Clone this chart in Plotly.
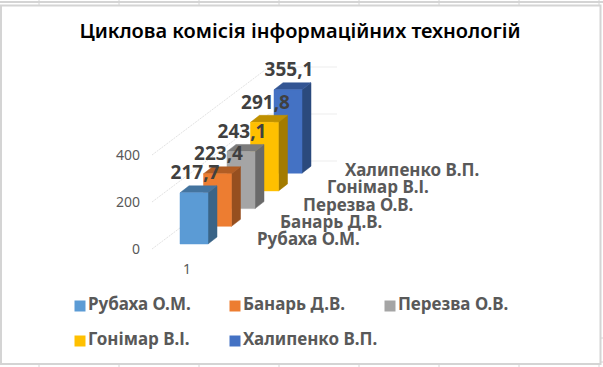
import plotly.graph_objects as go

# --- data ---
TITLE = "Циклова комісія інформаційних технологій"
series_names = ["Рубаха О.М.", "Банарь Д.В.", "Перезва О.В.", "Гонімар В.І.", "Халипенко В.П."]
series_values = [217.7, 223.4, 243.1, 291.8, 355.1]
value_labels = ["217,7", "223,4", "243,1", "291,8", "355,1"]
category_labels = ["1"]
value_ticks = [0, 200, 400]
front_colors = ["#5B9BD5", "#ED7D31", "#A5A5A5", "#FFC000", "#4472C4"]
top_colors = ["#44749F", "#B15D24", "#7B7B7B", "#BF9000", "#335593"]
side_colors = ["#3A6487", "#964F1F", "#6A6A6A", "#A37B00", "#2B4A7D"]
text_color = "#595959"
label_color = "#404040"
grid_color = "#EDEDED"
sheet_color = "#D4D4D4"

W, H = 603, 367
PX_PER_UNIT = 0.235          # vertical pixels per value unit
ZERO_Y = 249                 # pixel row of value 0 on the front wall
DEPTH_X, DEPTH_Y = 23.5, 17.7 / PX_PER_UNIT   # step between series rows
BAR_W, BAR_DX, BAR_DY = 28, 9, 7 / PX_PER_UNIT
ORIGIN_X, ORIGIN_V = 180, 5 / PX_PER_UNIT    # front-left floor corner of first bar
WALL_X0, WALL_X1, WALL_X2 = 152, 269, 337
WALL_RISE = 88 / PX_PER_UNIT


def v_of(py):
    return (ZERO_Y - py) / PX_PER_UNIT


fig = go.Figure()


def poly(xs, ys, color):
    fig.add_trace(go.Scatter(x=xs + xs[:1], y=ys + ys[:1], mode="lines", fill="toself",
                             fillcolor=color, line=dict(color=color, width=0.5),
                             hoverinfo="skip", showlegend=False))


# wall gridlines
for t in value_ticks:
    fig.add_trace(go.Scatter(x=[WALL_X0, WALL_X1], y=[t, t + WALL_RISE], mode="lines",
                             line=dict(color="#E2E2E2", width=1, dash="2px,1px"),
                             hoverinfo="skip", showlegend=False))
    fig.add_trace(go.Scatter(x=[WALL_X1, WALL_X2], y=[t + WALL_RISE] * 2, mode="lines",
                             line=dict(color=grid_color, width=1),
                             hoverinfo="skip", showlegend=False))

# bars, back to front
for i in reversed(range(len(series_values))):
    x0 = ORIGIN_X + i * DEPTH_X
    b = ORIGIN_V + i * DEPTH_Y
    t = b + series_values[i]
    x1 = x0 + BAR_W
    poly([x1, x1 + BAR_DX, x1 + BAR_DX, x1], [b, b + BAR_DY, t + BAR_DY, t], side_colors[i])
    poly([x0, x0 + BAR_DX, x1 + BAR_DX, x1], [t, t + BAR_DY, t + BAR_DY, t], top_colors[i])
    poly([x0, x1, x1, x0], [b, b, t, t], front_colors[i])

# data labels and depth-axis labels
lab_x = [ORIGIN_X + i * DEPTH_X + 15 for i in range(5)]
lab_y = [ORIGIN_V + i * DEPTH_Y + series_values[i] + 18.5 / PX_PER_UNIT for i in range(5)]
fig.add_trace(go.Scatter(x=lab_x, y=lab_y, mode="text", text=value_labels,
                         textposition="middle center", cliponaxis=False,
                         textfont=dict(family="Noto Sans", size=19, color=label_color, weight="bold"),
                         hoverinfo="skip", showlegend=False))
name_x = [257, 280, 303, 327, 345]
name_y = [v_of(241 - i * 17.3) for i in range(5)]
fig.add_trace(go.Scatter(x=name_x, y=name_y, mode="text", text=series_names,
                         textposition="middle right", cliponaxis=False,
                         textfont=dict(family="Noto Sans", size=17, color=text_color, weight="bold"),
                         hoverinfo="skip", showlegend=False))

# legend drawn as key squares and labels
col_x = [80, 235, 390, 80, 235]
row_y = [v_of(306)] * 3 + [v_of(341)] * 2
for i, n in enumerate(series_names):
    fig.add_trace(go.Scatter(x=[col_x[i]], y=[row_y[i]], mode="markers+text", text=[n],
                             textposition="middle right", cliponaxis=False,
                             marker=dict(symbol="square", size=11, color=front_colors[i]),
                             textfont=dict(family="Noto Sans", size=17, color=text_color, weight="bold"),
                             hoverinfo="skip", showlegend=False, name=n))

# sheet and chart frame
shapes = [
    dict(type="rect", xref="x", yref="paper", x0=1, x1=600.5, y0=1 - 5.5 / H, y1=1 - 364 / H,
         line=dict(color=sheet_color, width=2), layer="above"),
    dict(type="line", xref="x", yref="paper", x0=0, x1=W, y0=1 - 2 / H, y1=1 - 2 / H,
         line=dict(color=sheet_color, width=2), layer="above"),
]
for cx in (39, 119, 199, 279, 359, 439, 519, 599):
    shapes.append(dict(type="line", xref="x", yref="paper", x0=cx, x1=cx, y0=1, y1=1 - 5 / H,
                       line=dict(color=sheet_color, width=1), layer="above"))
    shapes.append(dict(type="line", xref="x", yref="paper", x0=cx, x1=cx, y0=0, y1=3 / H,
                       line=dict(color=sheet_color, width=1), layer="above"))
for cy in (338, 362):
    shapes.append(dict(type="line", xref="x", yref="paper", x0=601, x1=W, y0=1 - cy / H, y1=1 - cy / H,
                       line=dict(color=sheet_color, width=1), layer="above"))

fig.update_layout(
    width=W, height=H, margin=dict(l=0, r=0, t=0, b=0),
    paper_bgcolor="white", plot_bgcolor="rgba(0,0,0,0)", showlegend=False,
    shapes=shapes,
    title=dict(text=TITLE, x=0.4975, y=1 - 31 / H, xanchor="center", yanchor="middle",
               font=dict(family="Noto Sans", size=20, color="black", weight=600)),
    xaxis=dict(range=[0, W], showgrid=False, zeroline=False, showline=False, ticks="",
               tickmode="array", tickvals=[187], ticktext=category_labels,
               anchor="free", position=1 - 259 / H,
               tickfont=dict(family="Noto Sans", size=14, color=text_color), fixedrange=True),
    yaxis=dict(range=[v_of(H), v_of(0)], showgrid=False, zeroline=False, showline=False, ticks="",
               tickmode="array", tickvals=value_ticks, ticktext=[str(v) for v in value_ticks],
               anchor="free", position=140 / W,
               tickfont=dict(family="Noto Sans", size=14, color=text_color), fixedrange=True),
)
fig.write_html("out.html", config=dict(displayModeBar=False),
               post_script="document.body.style.margin='0';document.documentElement.style.overflow='hidden';")
